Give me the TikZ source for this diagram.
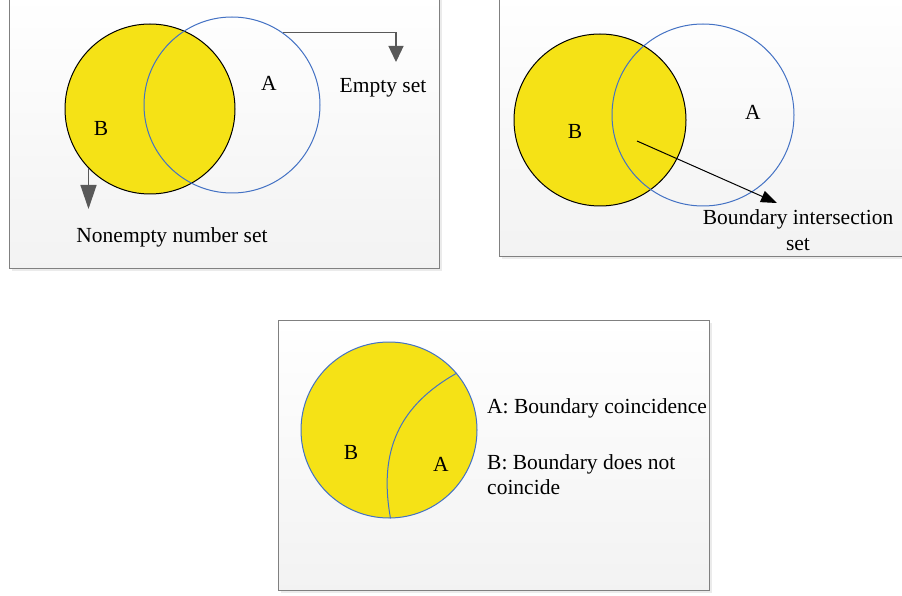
\documentclass[tikz,border=0pt]{standalone}
\usepackage{fontspec}
\setmainfont{Liberation Serif}
\usetikzlibrary{arrows.meta,positioning}
\definecolor{vnYellow}{RGB}{245,226,22}
\definecolor{vnBlue}{RGB}{68,114,196}
\definecolor{vnGray}{RGB}{89,89,89}
\definecolor{vnFrame}{RGB}{128,128,128}

\begin{document}
\begin{tikzpicture}[x=1pt, y=-1pt, font=\fontsize{21.5}{26}\selectfont,
  panel/.style={draw=vnFrame, line width=1pt, top color=white, bottom color=black!5},
  shade/.style={fill=black!8, draw=none},
  setB/.style={circle, draw=black, line width=1pt, fill=vnYellow, inner sep=0pt},
  setA/.style={circle, draw=vnBlue, line width=1pt, inner sep=0pt},
  lbl/.style={inner sep=1pt},
  grayarrow/.style={draw=vnGray, line width=1.3pt, -{Triangle[length=16pt,width=15pt]}},
  longarrow/.style={grayarrow, -{Triangle[length=24pt,width=16pt]}},
  blackarrow/.style={draw=black, line width=1pt, -{Triangle[length=16pt,width=12pt]}}]
\useasboundingbox (0,0) rectangle (902,596);

% panels
\fill[shade] (12,-5) rectangle (442,271);
\draw[panel] (9,-5) rectangle (439,268);
\fill[shade] (502,-5) rectangle (910,259);
\draw[panel] (499,-5) rectangle (907,256);
\fill[shade] (281,323) rectangle (712,593);
\draw[panel] (278,320) rectangle (709,590);

% panel 1: empty set
\node[setB, minimum size=170pt] (B1) at (150,109) {};
\node[setA, minimum size=176pt] (A1) at (232,105) {};
\node[lbl] (labA1) at (269,83) {A};
\node[lbl] (labB1) at (101,128) {B};
\node[lbl] (empty) at (383,88) {Empty set};
\node[lbl] (nonempty) at (172,237) {Nonempty number set};
\coordinate (tipE) at (396,62);
\coordinate (tipN) at (90,209);
\draw[grayarrow] (A1.55) -| (tipE);
\draw[longarrow] (B1.224) -- (B1.224 |- tipN);

% panel 2: boundary intersection
\node[setB, minimum size=172pt] (B2) at (600,120) {};
\node[setA, minimum size=182pt] (A2) at (703,115) {};
\node[lbl] (labB2) at (575,131) {B};
\node[lbl] (labA2) at (753,112) {A};
\node[lbl, align=center, font=\fontsize{21.5}{26}\selectfont] (inter) at (798,230) {Boundary intersection\\set};
\coordinate (startI) at (637,141);
\coordinate (tipI) at (777,203);
\draw[blackarrow] (startI) -- (tipI);

% panel 3: coincidence
\node[setA, fill=vnYellow, minimum size=176pt] (C3) at (389,430) {};
\draw[vnBlue, line width=1pt] (C3.40) .. controls (400,405) and (378,450) .. (C3.271);
\node[lbl] (labB3) at (351,452) {B};
\node[lbl] (labA3) at (441,464) {A};
\node[lbl, anchor=west] (defA) at (486,408) {A: Boundary coincidence};
\node[lbl, anchor=west, align=left, font=\fontsize{21.5}{25}\selectfont] (defB) at (486,474.5) {B: Boundary does not\\coincide};
\end{tikzpicture}
\end{document}
